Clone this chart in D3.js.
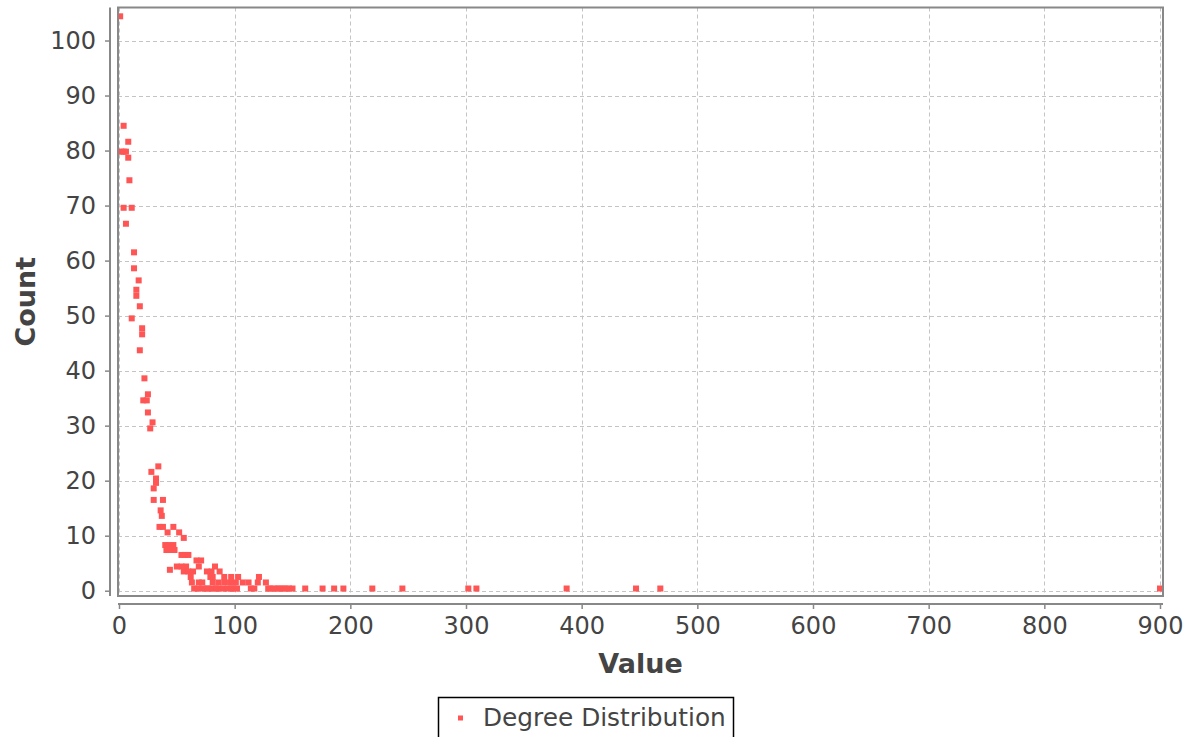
<!DOCTYPE html>
<html>
<head>
<meta charset="utf-8">
<script src="https://cdn.jsdelivr.net/npm/d3@7"></script>
<style>
  html, body { margin: 0; padding: 0; background: #fff; }
  svg { display: block; font-family: "DejaVu Sans", sans-serif; }
</style>
</head>
<body>
<svg id="chart" width="1194" height="737"></svg>
<script>
// Degree distribution: node degree (Value) against number of nodes (Count)
const seriesName = "Degree Distribution";
const xLabel = "Value";
const yLabel = "Count";

const degreeValues = [
  1, 4, 8, 2, 4, 6, 8, 9, 4, 11, 6,
  13, 13, 17, 15, 15, 18, 11, 20, 20, 18, 22, 25, 21, 24, 25, 29, 27,
  34, 28, 32, 32, 30, 30, 38, 36, 37,
  35, 38, 47, 42, 52, 56,
  40, 43, 47, 41, 45, 48,
  54, 57, 60,
  67, 71,
  50, 54, 58, 69, 83,
  44,
  56, 60, 64, 76, 80, 87,
  62, 79, 81, 91, 97, 103, 121,
  63, 69, 72, 81, 86, 91, 96, 101, 107, 112, 120, 127,
  65, 68, 72, 76, 77, 81, 84, 86, 90, 94, 97, 99, 102, 114, 117,
  129, 131, 134, 137, 139, 142, 144, 147, 150, 161, 176, 186, 194,
  219, 245, 302, 309, 387, 447, 468, 900
];
const countValues = [
  104.4, 84.5, 81.6, 79.8, 79.8, 79.8, 78.7, 74.6, 69.6, 69.6, 66.7,
  61.5, 58.6, 56.4, 54.7, 53.6, 51.7, 49.5, 47.7, 46.6, 43.7, 38.6, 35.7, 34.6, 34.6, 32.4, 30.6, 29.5,
  22.6, 21.6, 20.4, 19.6, 18.6, 16.5, 16.5, 14.6, 13.6,
  11.6, 11.6, 11.6, 10.6, 10.6, 9.6,
  8.3, 8.3, 8.3, 7.4, 7.4, 7.4,
  6.5, 6.5, 6.5,
  5.5, 5.5,
  4.4, 4.4, 4.4, 4.4, 4.4,
  3.8,
  3.5, 3.5, 3.5, 3.5, 3.5, 3.5,
  2.5, 2.5, 2.5, 2.5, 2.5, 2.5, 2.5,
  1.5, 1.5, 1.5, 1.5, 1.5, 1.5, 1.5, 1.5, 1.5, 1.5, 1.5, 1.5,
  0.4, 0.4, 0.4, 0.4, 0.4, 0.4, 0.4, 0.4, 0.4, 0.4, 0.4, 0.4, 0.4, 0.4, 0.4,
  0.4, 0.4, 0.4, 0.4, 0.4, 0.4, 0.4, 0.4, 0.4, 0.4, 0.4, 0.4, 0.4,
  0.4, 0.4, 0.4, 0.4, 0.4, 0.4, 0.4, 0.4
];

const xTicks = [0, 100, 200, 300, 400, 500, 600, 700, 800, 900];
const yTicks = [0, 10, 20, 30, 40, 50, 60, 70, 80, 90, 100];

const points = degreeValues.map((d, i) => ({ degree: d, count: countValues[i] }));

// Layout
const plot = { left: 118, right: 1163, top: 7.5, bottom: 596 };
const yAxisX = 110;
const xAxisY = 604;
const tickLen = 5;
const seriesColor = "#ff5555";
const axisColor = "#888888";
const textColor = "#444444";

const svg = d3.select("#chart");
svg.append("rect").attr("width", 1194).attr("height", 737).attr("fill", "#fff");

const x = d3.scaleLinear().domain([-0.865, 902.6]).range([plot.left, plot.right]);
const y = d3.scaleLinear().domain([-0.96, 106.0]).range([plot.bottom, plot.top]);

// Gridlines
const grid = svg.append("g").attr("stroke", "#c4c4c4").attr("stroke-width", 1)
  .attr("stroke-dasharray", "4,3");
grid.selectAll("line.gx").data(xTicks).join("line")
  .attr("x1", d => Math.round(x(d)) + 0.5).attr("x2", d => Math.round(x(d)) + 0.5)
  .attr("y1", plot.top).attr("y2", plot.bottom);
grid.selectAll("line.gy").data(yTicks).join("line")
  .attr("y1", d => Math.round(y(d)) + 0.5).attr("y2", d => Math.round(y(d)) + 0.5)
  .attr("x1", plot.left).attr("x2", plot.right);

// Data points, clipped to the plot area
svg.append("clipPath").attr("id", "plotClip").append("rect")
  .attr("x", plot.left).attr("y", plot.top)
  .attr("width", plot.right - plot.left).attr("height", plot.bottom - plot.top);

const size = 6;
svg.append("g").attr("clip-path", "url(#plotClip)")
  .selectAll("rect").data(points).join("rect")
  .attr("x", d => x(d.degree) - size / 2)
  .attr("y", d => y(d.count) - size / 2)
  .attr("width", size).attr("height", size)
  .attr("fill", seriesColor);

// Plot outline
svg.append("rect")
  .attr("x", plot.left).attr("y", plot.top)
  .attr("width", plot.right - plot.left).attr("height", plot.bottom - plot.top)
  .attr("fill", "none").attr("stroke", axisColor).attr("stroke-width", 2);

// Y axis (offset from plot)
const yAxis = d3.axisLeft(y).tickValues(yTicks).tickSize(tickLen).tickPadding(9)
  .tickFormat(d3.format("d"));
const gy = svg.append("g").attr("transform", `translate(${yAxisX},0)`).call(yAxis);
gy.select(".domain").attr("d", `M0,${plot.top}V${plot.bottom}`)
  .attr("stroke", axisColor).attr("stroke-width", 2);
gy.selectAll(".tick line").attr("stroke", axisColor).attr("stroke-width", 1.5);
gy.selectAll(".tick text").attr("fill", textColor)
  .style("font-size", "24px").style("font-family", "DejaVu Sans, sans-serif");

// X axis (offset from plot)
const xAxis = d3.axisBottom(x).tickValues(xTicks).tickSize(tickLen).tickPadding(8)
  .tickFormat(d3.format("d"));
const gx = svg.append("g").attr("transform", `translate(0,${xAxisY})`).call(xAxis);
gx.select(".domain").attr("d", `M${plot.left},0H${plot.right}`)
  .attr("stroke", axisColor).attr("stroke-width", 2);
gx.selectAll(".tick line").attr("stroke", axisColor).attr("stroke-width", 1.5);
gx.selectAll(".tick text").attr("fill", textColor)
  .style("font-size", "24px").style("font-family", "DejaVu Sans, sans-serif");

// Axis titles
svg.append("text")
  .attr("x", (plot.left + plot.right) / 2).attr("y", 673)
  .attr("text-anchor", "middle").attr("fill", textColor)
  .style("font-size", "27px").style("font-weight", "bold")
  .text(xLabel);

svg.append("text")
  .attr("transform", `translate(35,${(plot.top + plot.bottom) / 2}) rotate(-90)`)
  .attr("text-anchor", "middle").attr("fill", textColor)
  .style("font-size", "27px").style("font-weight", "bold")
  .text(yLabel);

// Legend
const legend = svg.append("g");
legend.append("rect")
  .attr("x", 438.5).attr("y", 697.5).attr("width", 295).attr("height", 60)
  .attr("fill", "#fff").attr("stroke", "#000").attr("stroke-width", 1.5);
legend.append("rect")
  .attr("x", 458).attr("y", 715.5).attr("width", 5).attr("height", 5)
  .attr("fill", seriesColor);
legend.append("text")
  .attr("x", 483).attr("y", 726)
  .attr("fill", textColor).style("font-size", "24.8px")
  .text(seriesName);
</script>
</body>
</html>
